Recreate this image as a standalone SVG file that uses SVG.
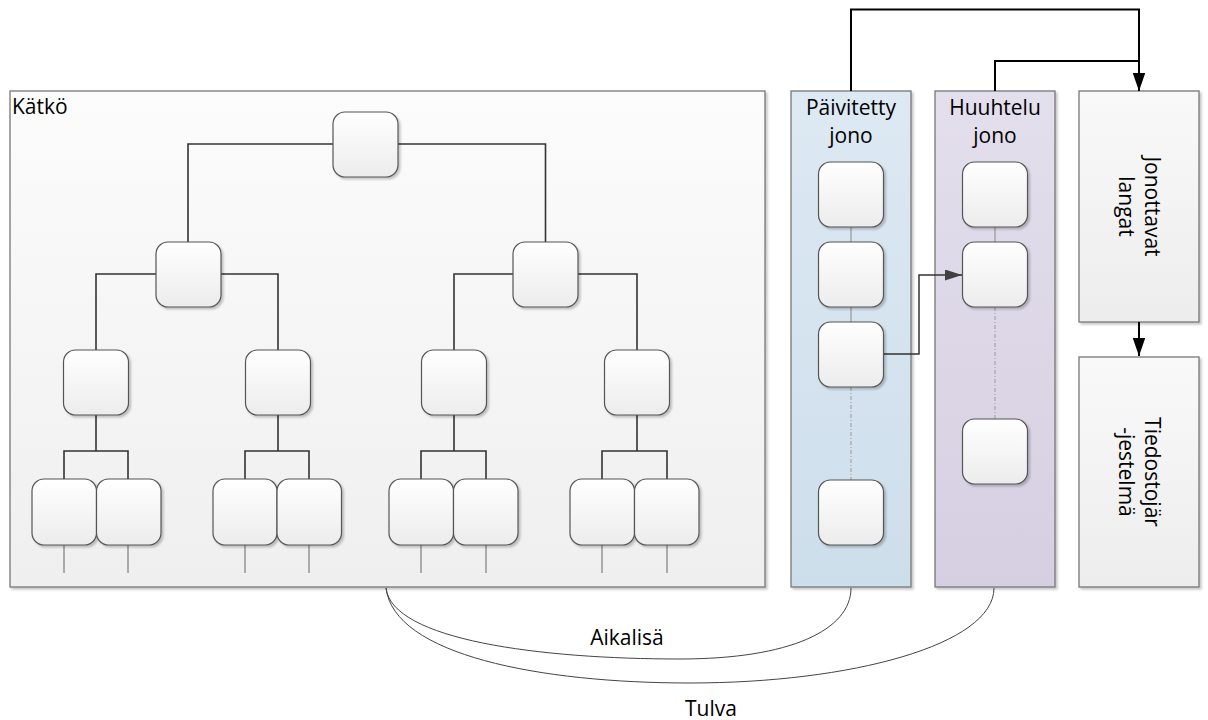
<svg xmlns="http://www.w3.org/2000/svg" width="1208" height="720" viewBox="0 0 1208 720">
  <defs>
    <linearGradient id="gNode" x1="0" y1="0" x2="0" y2="1">
      <stop offset="0" stop-color="#ffffff"/>
      <stop offset="1" stop-color="#ececec"/>
    </linearGradient>
    <linearGradient id="gCache" x1="0" y1="0" x2="0" y2="1">
      <stop offset="0" stop-color="#fcfcfc"/>
      <stop offset="1" stop-color="#efefef"/>
    </linearGradient>
    <linearGradient id="gBlue" x1="0" y1="0" x2="0" y2="1">
      <stop offset="0" stop-color="#dde9f3"/>
      <stop offset="1" stop-color="#cddeeb"/>
    </linearGradient>
    <linearGradient id="gLilac" x1="0" y1="0" x2="0" y2="1">
      <stop offset="0" stop-color="#e3dfec"/>
      <stop offset="1" stop-color="#d6cfe2"/>
    </linearGradient>
    <linearGradient id="gBox" x1="0" y1="0" x2="0" y2="1">
      <stop offset="0" stop-color="#f9f9f9"/>
      <stop offset="1" stop-color="#ededed"/>
    </linearGradient>
    <filter id="shadow" x="-10%" y="-10%" width="120%" height="120%">
      <feDropShadow dx="2" dy="2" stdDeviation="1" flood-color="#000" flood-opacity="0.22"/>
    </filter>
    <marker id="arrowBlack" viewBox="0 0 10 10" refX="10" refY="5" markerUnits="userSpaceOnUse" markerWidth="18" markerHeight="12.5" preserveAspectRatio="none" orient="auto">
      <path d="M0,0 L10,5 L0,10 Z" fill="#000"/>
    </marker>
    <marker id="arrowGray" viewBox="0 0 10 10" refX="10" refY="5" markerUnits="userSpaceOnUse" markerWidth="17" markerHeight="11" preserveAspectRatio="none" orient="auto">
      <path d="M0,0 L10,5 L0,10 Z" fill="#404040"/>
    </marker>
    <style>
      .node { fill: url(#gNode); stroke: #555; stroke-width: 1.2; filter: url(#shadow); }
      .panel { stroke: #777; stroke-width: 1.3; filter: url(#shadow); }
      .label { font-family: "Open Sans", "Liberation Sans", sans-serif; font-size: 21px; fill: #000; }
      .tree { fill: none; stroke: #333; stroke-width: 1.6; }
      .stub { fill: none; stroke: #666; stroke-width: 1; }
      .chain { fill: none; stroke: #888; stroke-width: 1; }
      .gap { fill: none; stroke: #999; stroke-width: 1; stroke-dasharray: 4 2 1 2; }
      .flow { fill: none; stroke: #000; stroke-width: 2; }
      .move { fill: none; stroke: #333; stroke-width: 1.5; }
      .curve { fill: none; stroke: #444; stroke-width: 1; }
    </style>
  </defs>

  <!-- Cache container -->
  <g id="katko">
    <rect class="panel" x="10" y="91" width="755" height="496" fill="url(#gCache)"/>
    <text class="label" x="12" y="114">Kätkö</text>
  </g>

  <!-- Queue panels -->
  <g id="paivitetty-jono">
    <rect class="panel" x="791" y="91" width="120" height="496" fill="url(#gBlue)"/>
    <text class="label" x="851" y="115" text-anchor="middle">Päivitetty</text>
    <text class="label" x="851" y="143" text-anchor="middle">jono</text>
  </g>
  <g id="huuhtelu-jono">
    <rect class="panel" x="935" y="91" width="120" height="496" fill="url(#gLilac)"/>
    <text class="label" x="995" y="115" text-anchor="middle">Huuhtelu</text>
    <text class="label" x="995" y="143" text-anchor="middle">jono</text>
  </g>
  <g id="jonottavat-langat">
    <rect class="panel" x="1079" y="91" width="120" height="231" fill="url(#gBox)"/>
    <g transform="translate(1139,206.5) rotate(90)">
      <text class="label" x="0" y="-6" text-anchor="middle">Jonottavat</text>
      <text class="label" x="0" y="20" text-anchor="middle">langat</text>
    </g>
  </g>
  <g id="tiedostojarjestelma">
    <rect class="panel" x="1079" y="357" width="120" height="230" fill="url(#gBox)"/>
    <g transform="translate(1139,472) rotate(90)">
      <text class="label" x="0" y="-6" text-anchor="middle">Tiedostojär</text>
      <text class="label" x="0" y="20" text-anchor="middle">-jestelmä</text>
    </g>
  </g>

  <!-- Connectors -->
  <g id="connectors">
    <!-- tree edges -->
    <path class="tree" d="M333,144 H188 V242 M398,144 H545.5 V242"/>
    <path class="tree" d="M156,274 H96 V350 M221,274 H278 V350 M513,274 H454 V350 M578,274 H637 V350"/>
    <path class="tree" d="M96,415 V451 M64,479 V451 H128 V479"/>
    <path class="tree" d="M278,415 V451 M245,479 V451 H309 V479"/>
    <path class="tree" d="M454,415 V451 M421,479 V451 H486 V479"/>
    <path class="tree" d="M637,415 V451 M602,479 V451 H667 V479"/>
    <!-- leaf stubs -->
    <path class="stub" d="M64,545 V573 M128,545 V573 M245,545 V573 M309,545 V573 M421,545 V573 M486,545 V573 M602,545 V573 M667,545 V573"/>
    <!-- queue chains -->
    <path class="chain" d="M851,227 V242 M851,307 V322 M995,227 V242"/>
    <path class="gap" d="M851,387 V480 M995,307 V419"/>
    <!-- move to flush queue -->
    <path class="move" d="M883.5,354 H919 V275 H962" marker-end="url(#arrowGray)"/>
    <!-- to waiting threads -->
    <path class="flow" d="M851,91 V9.5 H1139 V91" marker-end="url(#arrowBlack)"/>
    <path class="flow" d="M995,91 V61 H1139"/>
    <path class="flow" d="M1139,322 V356" marker-end="url(#arrowBlack)"/>
    <!-- timeout / flood curves -->
    <path class="curve" d="M386,588 C392,640 540,659 680,659 C790,659 851,630 851,588"/>
    <path class="curve" d="M386,588 C394,655 540,683 690,683 C850,683 994,645 994,588"/>
    <text class="label" x="627" y="645" text-anchor="middle">Aikalisä</text>
    <text class="label" x="711" y="716" text-anchor="middle">Tulva</text>
  </g>

  <!-- Cache tree nodes -->
  <g id="root"><rect class="node" x="333" y="112" width="65" height="65" rx="12"/></g>
  <g id="n-l"><rect class="node" x="156" y="242" width="65" height="65" rx="12"/></g>
  <g id="n-r"><rect class="node" x="513" y="242" width="65" height="65" rx="12"/></g>
  <g id="n-ll"><rect class="node" x="63.5" y="350" width="65" height="65" rx="12"/></g>
  <g id="n-lr"><rect class="node" x="245.5" y="350" width="65" height="65" rx="12"/></g>
  <g id="n-rl"><rect class="node" x="421.5" y="350" width="65" height="65" rx="12"/></g>
  <g id="n-rr"><rect class="node" x="604.5" y="350" width="65" height="65" rx="12"/></g>
  <g id="leaf-1"><rect class="node" x="32" y="479" width="64.5" height="66" rx="12"/></g>
  <g id="leaf-2"><rect class="node" x="96.5" y="479" width="64.5" height="66" rx="12"/></g>
  <g id="leaf-3"><rect class="node" x="213" y="479" width="64" height="66" rx="12"/></g>
  <g id="leaf-4"><rect class="node" x="277" y="479" width="64.5" height="66" rx="12"/></g>
  <g id="leaf-5"><rect class="node" x="389" y="479" width="64.5" height="66" rx="12"/></g>
  <g id="leaf-6"><rect class="node" x="453.5" y="479" width="64.5" height="66" rx="12"/></g>
  <g id="leaf-7"><rect class="node" x="570" y="479" width="64.5" height="66" rx="12"/></g>
  <g id="leaf-8"><rect class="node" x="634.5" y="479" width="64.5" height="66" rx="12"/></g>

  <!-- Queue entries -->
  <g id="pq-1"><rect class="node" x="818.5" y="162" width="65" height="65" rx="12"/></g>
  <g id="pq-2"><rect class="node" x="818.5" y="242" width="65" height="65" rx="12"/></g>
  <g id="pq-3"><rect class="node" x="818.5" y="322" width="65" height="65" rx="12"/></g>
  <g id="pq-4"><rect class="node" x="818.5" y="480" width="65" height="65" rx="12"/></g>
  <g id="hq-1"><rect class="node" x="962.5" y="162" width="65" height="65" rx="12"/></g>
  <g id="hq-2"><rect class="node" x="962.5" y="242" width="65" height="65" rx="12"/></g>
  <g id="hq-3"><rect class="node" x="962.5" y="419" width="65" height="65" rx="12"/></g>
</svg>
